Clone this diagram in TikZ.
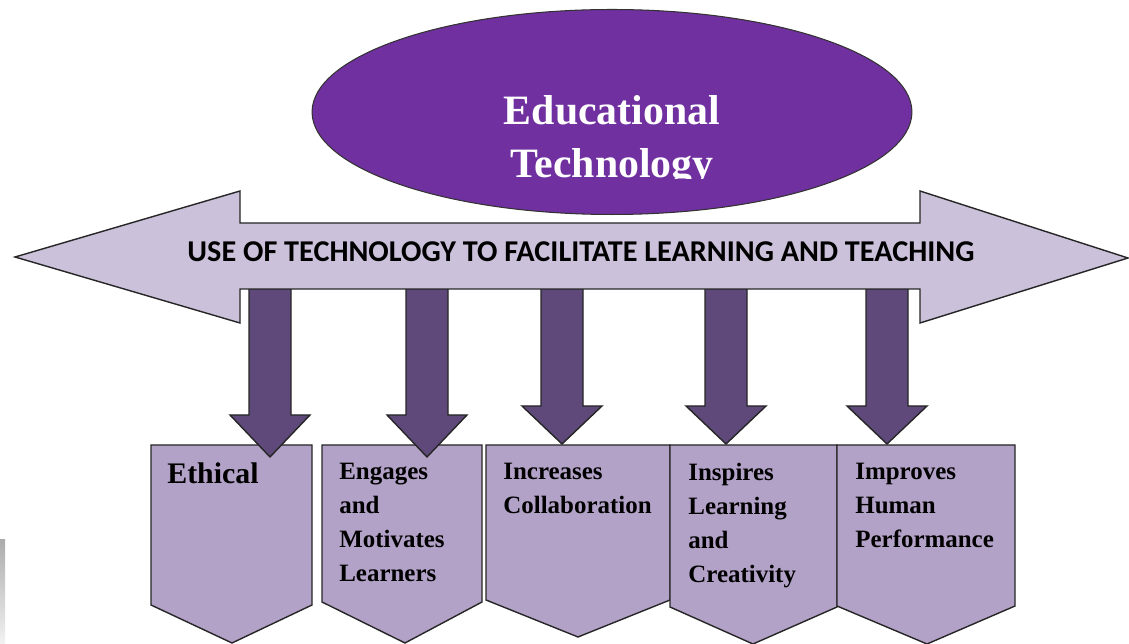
\documentclass[tikz,border=0pt]{standalone}
\usepackage{fontspec}
\setmainfont{Liberation Serif}
\newfontfamily\calibri{Carlito}
\usepackage{tikz}
\usetikzlibrary{shapes.geometric}

\definecolor{edupurple}{HTML}{7030A0}
\definecolor{bandlilac}{HTML}{CCC1DA}
\definecolor{arrowplum}{HTML}{5F497A}
\definecolor{boxlilac}{HTML}{B3A2C7}

\begin{document}
\begin{tikzpicture}[x=0.02cm, y=-0.02cm,
  every node/.style={inner sep=0pt},
  outl/.style={draw=black!85, line width=0.8pt, line join=miter},
  box/.style={outl, fill=boxlilac},
  down/.style={outl, fill=arrowplum},
  lbl/.style={anchor=north west, align=left,
              font=\fontsize{14.2}{19.3}\selectfont\bfseries},
  head/.style={text=white, anchor=base,
               font=\fontsize{23.8}{30}\selectfont\bfseries}]
  \useasboundingbox (0,0) rectangle (1129,644);
  \shade[top color=gray!65, bottom color=gray!10] (0,540) rectangle (5,644);

  % pointed boxes: left/right/side bottom/tip
  \foreach \l/\r/\b/\tx/\ty in {151/312/605/232/643, 322/482/602/405/643,
      486/670/600/578/637, 670/837/607/753/644, 837/1015/606/927/644}
    \draw[box] (\l,445) -- (\r,445) -- (\r,\b) -- (\tx,\ty) -- (\l,\b) -- cycle;

  % block arrows: shaft centre/head top/tip
  \foreach \c/\h/\t in {270/415/457, 427/415/457, 562/406/444,
      726/406/444, 887/406/444}
    \draw[down] (\c-21,280) -- (\c-21,\h) -- (\c-40,\h) -- (\c,\t)
      -- (\c+40,\h) -- (\c+21,\h) -- (\c+21,280) -- cycle;

  % two-headed band
  \draw[outl, fill=bandlilac] (15,257) -- (240,191) -- (240,223) -- (920,223)
    -- (920,191) -- (1128,258) -- (920,323) -- (920,289) -- (240,289)
    -- (240,323) -- cycle;
  \node[anchor=base, font=\calibri\bfseries\fontsize{17.2}{20}\selectfont]
    (band) at (581,262) {USE OF TECHNOLOGY TO FACILITATE LEARNING AND TEACHING};

  \node[ellipse, draw=black!80, line width=0.6pt, fill=edupurple,
        minimum width=12cm, minimum height=4.1cm] (ell) at (612,112) {};
  \begin{scope}
    \clip (400,60) rectangle (820,179);
    \node[head] (edu) at (612,125) {Educational};
    \node[head] (tech) at (612,178) {Technology};
  \end{scope}

  \node[lbl, font=\fontsize{17}{20}\selectfont\bfseries] (eth) at (167,462)
    {Ethical};
  \node[lbl] (eng) at (339,463) {Engages\\and\\Motivates\\Learners};
  \node[lbl] (inc) at (503,463) {Increases\\Collaboration};
  \node[lbl] (ins) at (688,463) {Inspires\\Learning\\and\\Creativity};
  \node[lbl] (imp) at (855,463) {Improves\\Human\\Performance};
\end{tikzpicture}
\end{document}
